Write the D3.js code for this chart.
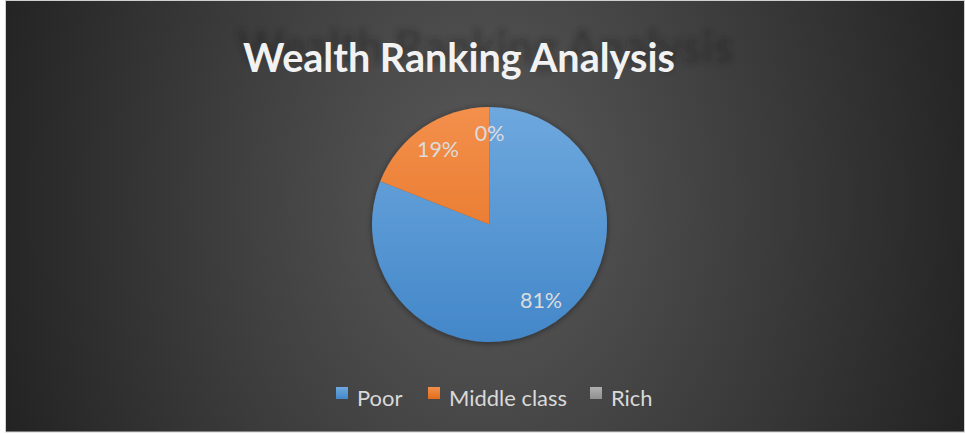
<!DOCTYPE html>
<html>
<head>
<meta charset="utf-8">
<script src="https://cdn.jsdelivr.net/npm/d3@7/dist/d3.min.js"></script>
<style>
  html, body { margin: 0; padding: 0; background: #ffffff; }
  svg { display: block; }
</style>
</head>
<body>
<svg id="chart" width="965" height="435"></svg>
<script>
// ---- data ----
const title = "Wealth Ranking Analysis";
const categories = ["Poor", "Middle class", "Rich"];
const values = [81, 19, 0];
const labels = ["81%", "19%", "0%"];
const colorsTop = ["#6ea8de", "#f3904c", "#b0b0b0"];
const colorsBottom = ["#4387c9", "#e36c1b", "#8f8f8f"];

const W = 965, H = 435;
const svg = d3.select("#chart");
const defs = svg.append("defs");

// background gradient
const bg = defs.append("radialGradient").attr("id", "bg")
  .attr("gradientUnits", "userSpaceOnUse")
  .attr("cx", 485).attr("cy", 200).attr("r", 520)
  .attr("gradientTransform", "translate(485,200) scale(1,1.3) translate(-485,-200)");
bg.append("stop").attr("offset", 0).attr("stop-color", "#5a5a5a");
bg.append("stop").attr("offset", 1).attr("stop-color", "#222222");

svg.append("rect").attr("x", 5.5).attr("y", 0.5).attr("width", 959).attr("height", 431.5)
  .attr("fill", "url(#bg)").attr("stroke", "#d0d0d0").attr("stroke-width", 1);

// filters
const blur = defs.append("filter").attr("id", "tblur").attr("x", "-10%").attr("y", "-50%").attr("width", "120%").attr("height", "200%");
blur.append("feGaussianBlur").attr("stdDeviation", 2.6);

const ds = defs.append("filter").attr("id", "pshadow").attr("x", "-20%").attr("y", "-20%").attr("width", "140%").attr("height", "140%");
ds.append("feDropShadow").attr("dx", 0).attr("dy", 1).attr("stdDeviation", 3)
  .attr("flood-color", "#000").attr("flood-opacity", 0.45);

// ---- title ----
const titleFont = "Lato, 'Open Sans', sans-serif";
const titleShadow = svg.append("text")
  .attr("x", 243).attr("y", 72)
  .attr("font-family", titleFont).attr("font-weight", 700)
  .attr("font-size", 42)
  .attr("fill", "#1a1a1a").attr("opacity", 0.4)
  .attr("filter", "url(#tblur)")
  .attr("transform", "translate(-42.75,-19.5) scale(1.15)")
  .text(title);
const titleText = svg.append("text")
  .attr("x", 243).attr("y", 72)
  .attr("font-family", titleFont).attr("font-weight", 700)
  .attr("font-size", 42)
  .attr("fill", "#f2f2f2")
  .text(title);
function fitWidth(sel, target) {
  const w = sel.node().getComputedTextLength();
  const fs = +sel.attr("font-size");
  sel.attr("font-size", fs * target / w);
  return fs * target / w;
}
fitWidth(titleText, 432);
titleShadow.attr("font-size", titleText.attr("font-size"));

// ---- pie ----
const cx = 489.5, cy = 224.5, r = 117.5;
const pie = d3.pie().sort(null).value(d => d)(values);
const arc = d3.arc().innerRadius(0).outerRadius(r);
const labelArc = d3.arc().innerRadius(r * 0.78).outerRadius(r * 0.78);

categories.forEach((c, i) => {
  const g = defs.append("linearGradient").attr("id", "sg" + i)
    .attr("gradientUnits", "userSpaceOnUse")
    .attr("x1", 0).attr("y1", -r).attr("x2", 0).attr("y2", r);
  g.append("stop").attr("offset", 0).attr("stop-color", colorsTop[i]);
  g.append("stop").attr("offset", 1).attr("stop-color", colorsBottom[i]);
});

const pg = svg.append("g").attr("transform", `translate(${cx},${cy})`);
const slices = pg.append("g").attr("filter", "url(#pshadow)");
slices.selectAll("path").data(pie).join("path")
  .attr("d", arc)
  .attr("fill", (d, i) => `url(#sg${i})`);

pg.selectAll("text.lbl").data(pie).join("text")
  .attr("class", "lbl")
  .attr("x", d => labelArc.centroid(d)[0])
  .attr("y", d => labelArc.centroid(d)[1])
  .attr("text-anchor", "middle")
  .attr("dominant-baseline", "central")
  .attr("font-family", "Lato, 'Open Sans', sans-serif")
  .attr("font-size", 21.5)
  .attr("fill", "#dcdcdc")
  .text((d, i) => labels[i]);

// ---- legend ----
const legendX = [336, 428, 590];
const lg = svg.append("g");
const legTexts = [];
categories.forEach((c, i) => {
  const g = defs.append("linearGradient").attr("id", "lgg" + i)
    .attr("x1", 0).attr("y1", 0).attr("x2", 0).attr("y2", 1);
  g.append("stop").attr("offset", 0).attr("stop-color", colorsTop[i]);
  g.append("stop").attr("offset", 1).attr("stop-color", colorsBottom[i]);
  lg.append("rect").attr("x", legendX[i]).attr("y", 387).attr("width", 12).attr("height", 12)
    .attr("fill", `url(#lgg${i})`);
  legTexts.push(lg.append("text").attr("x", legendX[i] + 21).attr("y", 406)
    .attr("font-family", "Lato, 'Open Sans', sans-serif")
    .attr("font-size", 20)
    .attr("fill", "#d9d9d9")
    .text(c));
});
const lfs = fitWidth(legTexts[1], 118);
legTexts.forEach(t => t.attr("font-size", lfs));
</script>
</body>
</html>
